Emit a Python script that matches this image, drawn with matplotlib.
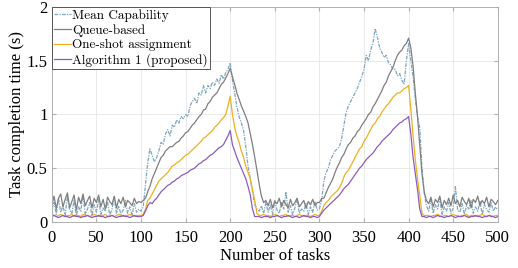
import numpy as np
import matplotlib.pyplot as plt

# task index, one sample every 2.5 tasks
tasks = np.linspace(0, 500, 201)

queue_based = [
    0.15, 0.24, 0.12, 0.22, 0.26, 0.14, 0.21, 0.27, 0.13, 0.19, 0.25, 0.11, 0.23, 0.17, 0.26, 0.15, 0.20, 0.24, 0.13, 0.22,
    0.18, 0.25, 0.14, 0.21, 0.12, 0.23, 0.19, 0.16, 0.24, 0.13, 0.21, 0.17, 0.23, 0.14, 0.20, 0.18, 0.15, 0.22, 0.17, 0.19,
    0.18, 0.20, 0.22, 0.28, 0.33, 0.40, 0.45, 0.50, 0.55, 0.60, 0.62, 0.66, 0.68, 0.70, 0.70, 0.72, 0.74, 0.75, 0.78, 0.80,
    0.83, 0.84, 0.87, 0.90, 0.92, 0.95, 0.98, 1.00, 1.04, 1.05, 1.10, 1.12, 1.16, 1.18, 1.20, 1.24, 1.28, 1.30, 1.34, 1.38,
    1.43, 1.35, 1.28, 1.20, 1.14, 1.08, 1.03, 0.98, 0.92, 0.82, 0.72, 0.60, 0.48, 0.35, 0.24, 0.18, 0.20,
    0.15, 0.21, 0.13, 0.19, 0.17, 0.22, 0.14, 0.20, 0.16, 0.13, 0.21, 0.15, 0.18, 0.22, 0.14, 0.17, 0.20, 0.13, 0.19, 0.16,
    0.21, 0.15, 0.18,
    0.18, 0.22, 0.22, 0.27, 0.32, 0.36, 0.40, 0.46, 0.51, 0.55, 0.60, 0.63, 0.68, 0.72, 0.74, 0.78, 0.80, 0.84, 0.86, 0.90,
    0.93, 0.96, 1.00, 1.02, 1.07, 1.10, 1.14, 1.18, 1.22, 1.27, 1.30, 1.36, 1.40, 1.44, 1.50, 1.55, 1.58, 1.60, 1.64, 1.66,
    1.71, 1.62, 1.45, 1.20, 0.98, 0.72, 0.45, 0.28, 0.20,
    0.17, 0.23, 0.14, 0.21, 0.18, 0.24, 0.13, 0.20, 0.16, 0.22, 0.15, 0.25, 0.17, 0.20, 0.14, 0.23, 0.19, 0.16, 0.22, 0.13,
    0.21, 0.18, 0.24, 0.15, 0.20, 0.17, 0.23, 0.14, 0.21, 0.19, 0.16, 0.20,
]

mean_capability = [
    0.10, 0.18, 0.07, 0.22, 0.09, 0.15, 0.06, 0.24, 0.11, 0.08, 0.20, 0.06, 0.14, 0.10, 0.25, 0.07, 0.12, 0.18, 0.06, 0.16,
    0.09, 0.21, 0.07, 0.13, 0.10, 0.19, 0.06, 0.12, 0.23, 0.08, 0.15, 0.07, 0.11, 0.20, 0.08, 0.14, 0.06, 0.17, 0.09, 0.12,
    0.10, 0.14, 0.35, 0.55, 0.68, 0.62, 0.56, 0.60, 0.66, 0.74, 0.72, 0.82, 0.86, 0.80, 0.90, 0.88, 0.95, 0.92, 0.98, 0.96,
    1.00, 0.98, 1.08, 1.12, 1.15, 1.10, 1.20, 1.18, 1.27, 1.20, 1.27, 1.24, 1.30, 1.27, 1.33, 1.29, 1.37, 1.33, 1.39, 1.42,
    1.48, 1.32, 1.20, 1.07, 0.98, 0.92, 0.85, 0.70, 0.52, 0.40, 0.28, 0.16, 0.12, 0.10, 0.15, 0.08, 0.18,
    0.09, 0.16, 0.07, 0.20, 0.11, 0.08, 0.18, 0.12, 0.28, 0.09, 0.15, 0.07, 0.13, 0.22, 0.08, 0.12, 0.10, 0.17, 0.07, 0.14,
    0.09, 0.19, 0.11,
    0.12, 0.20, 0.38, 0.46, 0.50, 0.58, 0.62, 0.66, 0.68, 0.70, 0.78, 0.90, 1.02, 1.08, 1.12, 1.16, 1.20, 1.24, 1.30, 1.35,
    1.42, 1.55, 1.50, 1.60, 1.66, 1.80, 1.72, 1.62, 1.58, 1.53, 1.55, 1.48, 1.46, 1.42, 1.42, 1.36, 1.38, 1.32, 1.28, 1.50,
    1.66, 1.50, 1.35, 1.15, 0.98, 0.88, 0.50, 0.27, 0.15,
    0.10, 0.20, 0.08, 0.16, 0.12, 0.22, 0.07, 0.14, 0.10, 0.18, 0.08, 0.13, 0.33, 0.11, 0.09, 0.17, 0.07, 0.15, 0.12, 0.20,
    0.08, 0.14, 0.10, 0.19, 0.07, 0.16, 0.12, 0.09, 0.18, 0.10, 0.14, 0.11,
]

one_shot = [
    0.07, 0.06, 0.05, 0.06, 0.07, 0.06, 0.05, 0.06, 0.06, 0.07, 0.05, 0.06, 0.06, 0.05, 0.07, 0.06, 0.06, 0.05, 0.06, 0.07,
    0.06, 0.05, 0.06, 0.06, 0.07, 0.05, 0.06, 0.06, 0.05, 0.06, 0.07, 0.06, 0.05, 0.06, 0.06, 0.07, 0.06, 0.05, 0.06, 0.06,
    0.06, 0.07, 0.12, 0.20, 0.22, 0.26, 0.30, 0.34, 0.38, 0.40, 0.42, 0.44, 0.46, 0.49, 0.52, 0.53, 0.55, 0.56, 0.58, 0.60,
    0.62, 0.63, 0.65, 0.67, 0.69, 0.71, 0.73, 0.75, 0.78, 0.79, 0.81, 0.83, 0.85, 0.88, 0.90, 0.92, 0.95, 0.97, 1.00, 1.08,
    1.17, 1.00, 0.88, 0.80, 0.74, 0.66, 0.60, 0.52, 0.46, 0.40, 0.30, 0.20, 0.08, 0.06, 0.06, 0.07, 0.06,
    0.06, 0.05, 0.06, 0.07, 0.06, 0.05, 0.06, 0.06, 0.07, 0.05, 0.06, 0.06, 0.05, 0.06, 0.07, 0.06, 0.05, 0.06, 0.06, 0.05,
    0.06, 0.07, 0.06,
    0.06, 0.10, 0.15, 0.18, 0.20, 0.23, 0.25, 0.27, 0.29, 0.32, 0.36, 0.42, 0.46, 0.48, 0.52, 0.56, 0.60, 0.64, 0.68, 0.70,
    0.75, 0.78, 0.82, 0.86, 0.90, 0.92, 0.96, 0.98, 1.02, 1.05, 1.08, 1.10, 1.13, 1.16, 1.18, 1.20, 1.20, 1.22, 1.24, 1.25,
    1.27, 1.05, 0.80, 0.58, 0.40, 0.25, 0.08, 0.06, 0.06,
    0.06, 0.05, 0.06, 0.06, 0.07, 0.06, 0.05, 0.06, 0.06, 0.05, 0.06, 0.07, 0.06, 0.06, 0.05, 0.06, 0.06, 0.07, 0.05, 0.06,
    0.06, 0.05, 0.06, 0.06, 0.07, 0.06, 0.05, 0.06, 0.06, 0.05, 0.06, 0.06,
]

algorithm1 = [
    0.05, 0.06, 0.05, 0.04, 0.05, 0.06, 0.05, 0.05, 0.04, 0.05, 0.06, 0.05, 0.05, 0.04, 0.05, 0.05, 0.06, 0.05, 0.04, 0.05,
    0.05, 0.06, 0.05, 0.05, 0.04, 0.05, 0.05, 0.06, 0.05, 0.04, 0.05, 0.05, 0.06, 0.05, 0.05, 0.04, 0.05, 0.06, 0.05, 0.05,
    0.05, 0.06, 0.10, 0.15, 0.18, 0.17, 0.20, 0.22, 0.25, 0.28, 0.30, 0.32, 0.34, 0.35, 0.37, 0.38, 0.40, 0.41, 0.43, 0.44,
    0.45, 0.46, 0.48, 0.49, 0.50, 0.52, 0.54, 0.55, 0.57, 0.58, 0.60, 0.62, 0.63, 0.65, 0.67, 0.69, 0.70, 0.72, 0.76, 0.80,
    0.85, 0.72, 0.66, 0.60, 0.55, 0.50, 0.45, 0.40, 0.33, 0.25, 0.12, 0.05, 0.05, 0.05, 0.04, 0.05, 0.05,
    0.05, 0.04, 0.05, 0.05, 0.06, 0.05, 0.04, 0.05, 0.05, 0.06, 0.05, 0.04, 0.05, 0.05, 0.04, 0.05, 0.06, 0.05, 0.05, 0.04,
    0.05, 0.05, 0.04,
    0.05, 0.08, 0.11, 0.13, 0.15, 0.17, 0.19, 0.21, 0.23, 0.25, 0.28, 0.31, 0.33, 0.35, 0.38, 0.41, 0.44, 0.47, 0.50, 0.52,
    0.55, 0.58, 0.60, 0.62, 0.64, 0.67, 0.70, 0.72, 0.75, 0.77, 0.79, 0.81, 0.83, 0.86, 0.88, 0.90, 0.92, 0.93, 0.95, 0.96,
    0.98, 0.82, 0.60, 0.45, 0.30, 0.12, 0.05, 0.05, 0.04,
    0.05, 0.05, 0.04, 0.05, 0.06, 0.05, 0.05, 0.04, 0.05, 0.05, 0.06, 0.05, 0.04, 0.05, 0.05, 0.05, 0.06, 0.05, 0.04, 0.05,
    0.05, 0.06, 0.05, 0.05, 0.04, 0.05, 0.05, 0.06, 0.05, 0.05, 0.04, 0.05,
]

plt.rcParams['font.family'] = ['Liberation Serif', 'DejaVu Serif']

fig = plt.figure(figsize=(5.18, 2.68), dpi=100)
ax = fig.add_axes([0.100, 0.172, 0.861, 0.802])

ax.plot(tasks, mean_capability, color='#7fa6bd', lw=0.9, ls=(0, (3, 1, 1, 1)), label='Mean Capability')
ax.plot(tasks, queue_based, color='#7f7f7f', lw=0.9, label='Queue-based')
ax.plot(tasks, one_shot, color='#edb120', lw=0.9, label='One-shot assignment')
ax.plot(tasks, algorithm1, color='#8a5cc0', lw=0.9, label='Algorithm 1 (proposed)')

ax.set_xlim(0, 500)
ax.set_ylim(0, 2)
ax.set_xticks(np.arange(0, 501, 50))
ax.set_yticks([0, 0.5, 1, 1.5, 2])
ax.set_yticklabels(['0', '0.5', '1', '1.5', '2'])
ax.grid(True, color='#e6e6e6', lw=0.6)
ax.set_axisbelow(True)
for s in ax.spines.values():
    s.set_color('#b0b0b0')
    s.set_linewidth(0.7)
ax.tick_params(labelsize=12, length=3, color='#b0b0b0', direction='in', top=True, right=True)
ax.tick_params(axis='x', pad=6)
ax.tick_params(axis='y', pad=3)
ax.set_xlabel('Number of tasks', fontsize=12, labelpad=1)
ax.set_ylabel('Task completion time (s)', fontsize=12, labelpad=1)

leg = ax.legend(loc='upper left', frameon=True, fancybox=False,
                borderaxespad=0, handlelength=1.3, handletextpad=0.1, borderpad=0.15,
                labelspacing=0.18, prop={'family': 'cmr10', 'size': 9.5})
leg.get_frame().set_edgecolor('#555555')
leg.get_frame().set_linewidth(0.7)
leg.get_frame().set_alpha(1)

fig.savefig('out.png', dpi=100)
